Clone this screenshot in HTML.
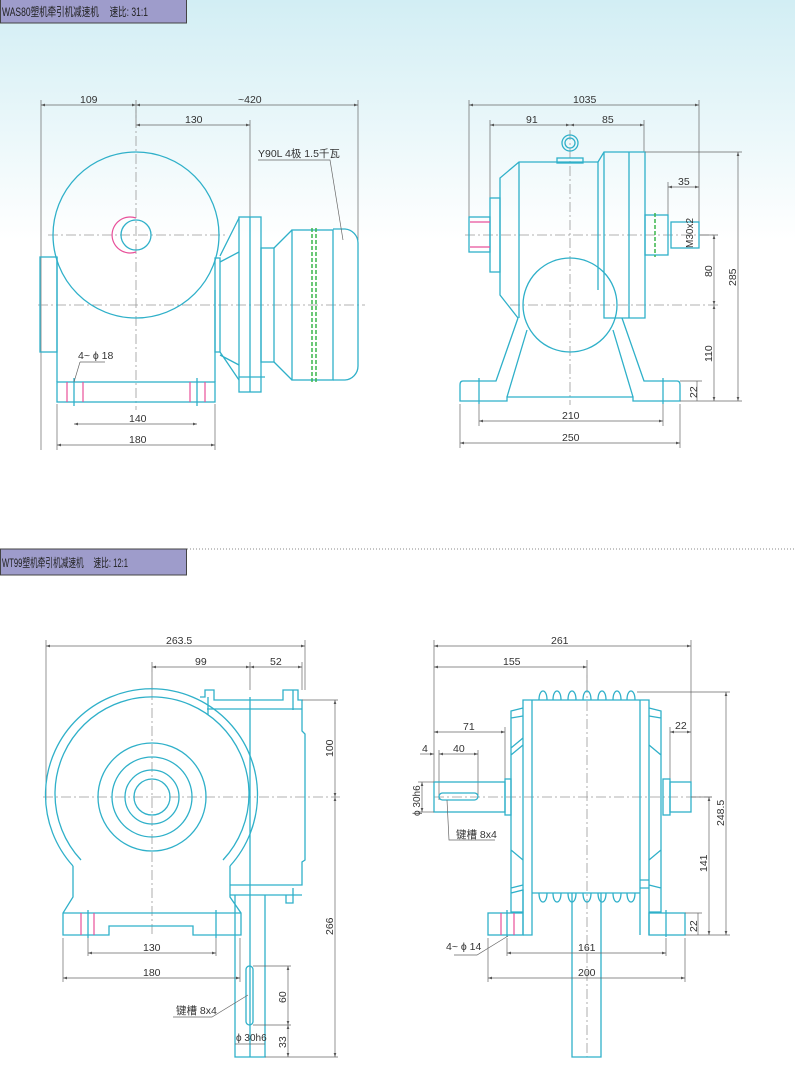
<!DOCTYPE html>
<html><head><meta charset="utf-8"><style>
html,body{margin:0;padding:0;background:#fff}
svg{display:block}
text{font-family:"Liberation Sans","Noto Sans CJK SC",sans-serif;font-size:10.5px;fill:#333}
.c{fill:none;stroke:#2fb0c9;stroke-width:1.3}
.d{fill:none;stroke:#666;stroke-width:0.7}
.cl{fill:none;stroke:#999;stroke-width:0.8;stroke-dasharray:10 3 2 3}
.p{stroke:#e8509a;stroke-width:1.2}
.g{stroke:#3ab54a;stroke-width:1.5;stroke-dasharray:4 2}
</style></head><body>
<svg width="795" height="1084" viewBox="0 0 795 1084" xmlns="http://www.w3.org/2000/svg">
<defs>
<linearGradient id="bg" x1="0" y1="0" x2="0" y2="1">
<stop offset="0" stop-color="#d2eef4"/><stop offset="1" stop-color="#ffffff"/></linearGradient>
<marker id="a" viewBox="0 0 6 6" refX="6" refY="3" markerWidth="6" markerHeight="6" orient="auto-start-reverse"><path d="M0,1 L6,3 L0,5z" fill="#555"/></marker>
</defs>
<rect x="0" y="0" width="795" height="240" fill="url(#bg)"/>
<rect x="0.5" y="-1" width="186" height="24" fill="#9e9ccb" stroke="#444"/>
<text x="2" y="16" style="font-size:12px;fill:#222" textLength="146" lengthAdjust="spacingAndGlyphs">WAS80塑机牵引机减速机　 速比: 31:1</text>
<line x1="187" y1="549" x2="795" y2="549" stroke="#888" stroke-dasharray="1 2"/>
<rect x="0.5" y="549" width="186" height="26" fill="#9e9ccb" stroke="#444"/>
<text x="2" y="567" style="font-size:12px;fill:#222" textLength="126" lengthAdjust="spacingAndGlyphs">WT99塑机牵引机减速机　 速比: 12:1</text>

<!-- ===== Top-left ===== -->
<g>
<line class="d" x1="41" y1="100" x2="41" y2="450"/><line class="d" x1="136" y1="100" x2="136" y2="128"/>
<line class="d" x1="358" y1="100" x2="358" y2="240"/><line class="d" x1="250" y1="120" x2="250" y2="217"/>
<line class="d" x1="41" y1="105" x2="136" y2="105" marker-start="url(#a)" marker-end="url(#a)"/>
<line class="d" x1="136" y1="105" x2="358" y2="105" marker-start="url(#a)" marker-end="url(#a)"/>
<line class="d" x1="136" y1="125" x2="250" y2="125" marker-start="url(#a)" marker-end="url(#a)"/>
<text x="80" y="103">109</text><text x="238" y="103">~420</text><text x="185" y="123">130</text>
<line class="cl" x1="48" y1="235" x2="225" y2="235"/><line class="cl" x1="38" y1="305" x2="365" y2="305"/>
<line class="cl" x1="136" y1="100" x2="136" y2="410"/>
<circle class="c" cx="136" cy="235" r="83"/>
<circle class="c" cx="136" cy="235" r="15"/>
<path d="M136,218 A18,18 0 1 1 136,252" fill="none" class="p" transform="rotate(180 136 235)"/>
<rect class="c" x="40" y="257" width="17" height="95"/>
<path class="c" d="M57,257 V382 M215,290 V382"/>
<rect class="c" x="57" y="382" width="158" height="20"/>
<path class="p" d="M67,382V402 M83,382V402 M190,382V402 M205,382V402"/>
<path class="c" d="M74,378V406 M197,378V406"/>
<rect class="c" x="215" y="258" width="5" height="94"/>
<path class="c" d="M220,256 L239,218 M220,262 L239,252 M220,352 L239,380 M220,355 L239,365"/>
<rect class="c" x="239" y="217" width="22" height="175"/>
<path class="c" d="M250,217V392 M239,377H265"/>
<rect class="c" x="261" y="248" width="13" height="114"/>
<path class="c" d="M274,248 L292,230 M274,362 L292,380"/>
<rect class="c" x="292" y="230" width="41" height="150"/>
<path class="c" d="M333,229 H345 A14,14 0 0 1 358,243 V366 A14,14 0 0 1 345,380 H333"/>
<path class="g" d="M312,228V382 M316,228V382"/>
<text x="258" y="157">Y90L 4极 1.5千瓦</text>
<path class="d" d="M258,160H330 L343,240"/>
<text x="78" y="359">4~ ϕ 18</text>
<path class="d" d="M80,362H105 M80,362 L74,382"/>
<line class="d" x1="57" y1="404" x2="57" y2="450"/><line class="d" x1="215" y1="404" x2="215" y2="450"/>
<line class="d" x1="74" y1="424" x2="197" y2="424" marker-start="url(#a)" marker-end="url(#a)"/>
<line class="d" x1="57" y1="445" x2="215" y2="445" marker-start="url(#a)" marker-end="url(#a)"/>
<text x="129" y="422">140</text><text x="129" y="443">180</text>
</g>

<!-- ===== Top-right ===== -->
<g>
<line class="d" x1="469" y1="100" x2="469" y2="217"/><line class="d" x1="699" y1="100" x2="699" y2="222"/>
<line class="d" x1="490" y1="120" x2="490" y2="200"/><line class="d" x1="644" y1="120" x2="644" y2="152"/>
<line class="d" x1="668" y1="182" x2="668" y2="215"/>
<line class="d" x1="469" y1="105" x2="699" y2="105" marker-start="url(#a)" marker-end="url(#a)"/>
<line class="d" x1="490" y1="125" x2="570" y2="125" marker-start="url(#a)" marker-end="url(#a)"/>
<line class="d" x1="570" y1="125" x2="644" y2="125" marker-start="url(#a)" marker-end="url(#a)"/>
<line class="d" x1="668" y1="187" x2="699" y2="187" marker-start="url(#a)" marker-end="url(#a)"/>
<text x="573" y="103">1035</text><text x="526" y="123">91</text><text x="602" y="123">85</text><text x="678" y="185">35</text>
<line class="cl" x1="465" y1="235" x2="718" y2="235"/><line class="cl" x1="510" y1="305" x2="718" y2="305"/>
<line class="cl" x1="570" y1="130" x2="570" y2="405"/>
<circle class="c" cx="570" cy="143" r="8"/><circle class="c" cx="570" cy="143" r="5"/>
<rect class="c" x="557" y="158" width="26" height="5"/>
<path class="c" d="M598,162 H519 L500,178 V295 L518,318 M519,162 V318"/>
<rect class="c" x="490" y="198" width="10" height="74"/>
<rect class="c" x="469" y="217" width="21" height="35"/>
<path class="p" d="M470,222H490 M470,247H490"/>
<path class="c" d="M598,162 L604,152 H645 V318 H604 V152 M598,162 V290 M629,152 V318"/>
<rect class="c" x="645" y="215" width="23" height="40"/>
<path class="g" d="M655,213V257"/>
<rect class="c" x="671" y="222" width="28" height="26"/>
<text transform="translate(693,248) rotate(-90)" style="font-size:10px">M30x2</text>
<circle class="c" cx="570" cy="305" r="47"/>
<path class="c" d="M518,318 L496,381 H463 Q460,381 460,385 V401 H507 V397 H633 V401 H680 V385 Q680,381 677,381 H644 L622,318 M527,330 L507,397 M613,330 L633,397"/>
<path class="c" d="M479,378V404 M663,378V404"/>
<line class="d" x1="645" y1="152" x2="742" y2="152"/><line class="d" x1="680" y1="401" x2="742" y2="401"/>
<line class="d" x1="700" y1="235" x2="718" y2="235"/><line class="d" x1="680" y1="381" x2="702" y2="381"/>
<line class="d" x1="738" y1="152" x2="738" y2="401" marker-start="url(#a)" marker-end="url(#a)"/>
<line class="d" x1="714" y1="235" x2="714" y2="305" marker-start="url(#a)" marker-end="url(#a)"/>
<line class="d" x1="714" y1="305" x2="714" y2="401" marker-start="url(#a)" marker-end="url(#a)"/>
<line class="d" x1="697" y1="381" x2="697" y2="401"/>
<text transform="translate(736,286) rotate(-90)">285</text>
<text transform="translate(712,277) rotate(-90)">80</text>
<text transform="translate(712,362) rotate(-90)">110</text>
<text transform="translate(697,398) rotate(-90)">22</text>
<line class="d" x1="460" y1="404" x2="460" y2="448"/><line class="d" x1="680" y1="404" x2="680" y2="448"/>
<line class="d" x1="479" y1="404" x2="479" y2="426"/><line class="d" x1="663" y1="404" x2="663" y2="426"/>
<line class="d" x1="479" y1="421" x2="663" y2="421" marker-start="url(#a)" marker-end="url(#a)"/>
<line class="d" x1="460" y1="443" x2="680" y2="443" marker-start="url(#a)" marker-end="url(#a)"/>
<text x="562" y="419">210</text><text x="562" y="441">250</text>
</g>

<!-- ===== Bottom-left ===== -->
<g>
<line class="d" x1="46" y1="640" x2="46" y2="800"/><line class="d" x1="305" y1="640" x2="305" y2="690"/>
<line class="d" x1="152" y1="662" x2="152" y2="690"/><line class="d" x1="250" y1="662" x2="250" y2="690"/><line class="d" x1="302" y1="662" x2="302" y2="690"/>
<line class="d" x1="46" y1="646" x2="305" y2="646" marker-start="url(#a)" marker-end="url(#a)"/>
<line class="d" x1="152" y1="667" x2="250" y2="667" marker-start="url(#a)" marker-end="url(#a)"/>
<line class="d" x1="250" y1="667" x2="302" y2="667" marker-start="url(#a)" marker-end="url(#a)"/>
<text x="166" y="644">263.5</text><text x="195" y="665">99</text><text x="270" y="665">52</text>
<line class="cl" x1="43" y1="797" x2="340" y2="797"/><line class="cl" x1="152" y1="672" x2="152" y2="935"/>
<path class="c" d="M73,866 A106,106 0 1 1 230,866"/>
<path class="c" d="M81,860 A97,97 0 1 1 223,860"/>
<circle class="c" cx="152" cy="797" r="54"/><circle class="c" cx="152" cy="797" r="40"/>
<circle class="c" cx="152" cy="797" r="27"/><circle class="c" cx="152" cy="797" r="18"/>
<path class="c" d="M73,866 V897 L63,913 V935 H109 V926 H193 V935 H241 V913 L230,897 V866 M63,913 H241"/>
<path class="p" d="M81,913V935 M94,913V935"/>
<path class="c" d="M88,910V938 M216,910V938"/>
<path class="c" d="M200,697 H205 V690 H214 V700 H283 V690 H298 V700 H302 V731 L305,734 V860 L302,862 V885 H230 M207,709 H302 M230,895 H302 M293,888 V903 H286 V895 M208,697 V715 M293,690 V710"/>
<path class="c" d="M235,895 V1057 H265 V895 M250,697 V1057"/>
<rect class="c" x="246" y="966" width="7" height="59" rx="3.5"/>
<line class="d" x1="302" y1="700" x2="338" y2="700"/><line class="d" x1="265" y1="1057" x2="338" y2="1057"/>
<line class="d" x1="253" y1="966" x2="291" y2="966"/><line class="d" x1="253" y1="1025" x2="291" y2="1025"/>
<line class="d" x1="335" y1="700" x2="335" y2="797" marker-start="url(#a)" marker-end="url(#a)"/>
<line class="d" x1="335" y1="797" x2="335" y2="1057" marker-start="url(#a)" marker-end="url(#a)"/>
<line class="d" x1="288" y1="966" x2="288" y2="1025" marker-start="url(#a)" marker-end="url(#a)"/>
<line class="d" x1="288" y1="1025" x2="288" y2="1057" marker-start="url(#a)" marker-end="url(#a)"/>
<text transform="translate(333,757) rotate(-90)">100</text>
<text transform="translate(333,935) rotate(-90)">266</text>
<text transform="translate(286,1003) rotate(-90)">60</text>
<text transform="translate(286,1048) rotate(-90)">33</text>
<line class="d" x1="63" y1="938" x2="63" y2="982"/><line class="d" x1="240" y1="938" x2="240" y2="982"/>
<line class="d" x1="88" y1="938" x2="88" y2="956"/><line class="d" x1="216" y1="938" x2="216" y2="956"/>
<line class="d" x1="88" y1="953" x2="216" y2="953" marker-start="url(#a)" marker-end="url(#a)"/>
<line class="d" x1="63" y1="978" x2="240" y2="978" marker-start="url(#a)" marker-end="url(#a)"/>
<text x="143" y="951">130</text><text x="143" y="976">180</text>
<text x="176" y="1014">键槽 8x4</text>
<path class="d" d="M173,1017H212 L248,995"/>
<text x="236" y="1041" style="font-size:10px">ϕ 30h6</text>
<line class="d" x1="235" y1="1044" x2="265" y2="1044"/>
</g>

<!-- ===== Bottom-right ===== -->
<g>
<line class="d" x1="434" y1="640" x2="434" y2="785"/><line class="d" x1="691" y1="640" x2="691" y2="782"/>
<line class="d" x1="587" y1="660" x2="587" y2="690"/>
<line class="d" x1="434" y1="646" x2="691" y2="646" marker-start="url(#a)" marker-end="url(#a)"/>
<line class="d" x1="434" y1="667" x2="587" y2="667" marker-start="url(#a)" marker-end="url(#a)"/>
<text x="551" y="644">261</text><text x="503" y="665">155</text>
<line class="d" x1="505" y1="727" x2="505" y2="782"/><line class="d" x1="670" y1="727" x2="670" y2="782"/>
<line class="d" x1="439" y1="750" x2="439" y2="800"/><line class="d" x1="478" y1="750" x2="478" y2="795"/>
<line class="d" x1="434" y1="732" x2="505" y2="732" marker-start="url(#a)" marker-end="url(#a)"/>
<line class="d" x1="670" y1="732" x2="691" y2="732" marker-start="url(#a)" marker-end="url(#a)"/>
<line class="d" x1="439" y1="754" x2="478" y2="754" marker-start="url(#a)" marker-end="url(#a)"/>
<line class="d" x1="420" y1="754" x2="434" y2="754" marker-end="url(#a)"/>
<text x="463" y="730">71</text><text x="675" y="729">22</text><text x="453" y="752">40</text><text x="422" y="752">4</text>
<line class="cl" x1="434" y1="797" x2="712" y2="797"/><line class="cl" x1="587" y1="665" x2="587" y2="1057"/>
<path class="c" d="M523,935 V700 H532 V935 H523 M640,935 V700 H649 V935 M532,700 H640 M532,893 H640"/>
<path class="c" d="M539,700 C539,688 547,688 547,700 M553,700 C553,688 561,688 561,700 M568,700 C568,688 576,688 576,700 M583,700 C583,688 591,688 591,700 M598,700 C598,688 606,688 606,700 M613,700 C613,688 621,688 621,700 M627,700 C627,688 635,688 635,700"/>
<path class="c" d="M539,893 C539,905 547,905 547,893 M553,893 C553,905 561,905 561,893 M568,893 C568,905 576,905 576,893 M583,893 C583,905 591,905 591,893 M598,893 C598,905 606,905 606,893 M613,893 C613,905 621,905 621,893 M627,893 C627,905 635,905 635,893"/>
<path class="c" d="M523,708 L511,711 V748 L523,738 M511,748 V755 L523,745 M511,755 V850 L523,860 M511,850 V893 L523,890 V912 H511 V893 M511,718 L523,716 M511,888 L523,885"/>
<path class="c" d="M649,708 L661,711 V755 L649,745 M661,755 V850 L649,860 M661,850 V912 H649 M661,718 L649,716 M661,888 L649,885"/>
<path class="c" d="M640,880 H649 M640,888 H649"/>
<rect class="c" x="434" y="782" width="71" height="30"/>
<rect class="c" x="505" y="779" width="6" height="36"/>
<rect class="c" x="670" y="782" width="21" height="30"/>
<rect class="c" x="663" y="779" width="7" height="36"/>
<rect class="c" x="439" y="793" width="39" height="7" rx="3.5"/>
<rect class="c" x="488" y="913" width="35" height="22"/>
<rect class="c" x="649" y="913" width="36" height="22"/>
<path class="p" d="M501,913V935 M514,913V935"/>
<path class="c" d="M507,910V937 M666,910V937"/>
<path class="c" d="M572,893 V1057 H601 V893"/>
<line class="d" x1="637" y1="692" x2="730" y2="692"/><line class="d" x1="685" y1="935" x2="730" y2="935"/>
<line class="d" x1="691" y1="797" x2="712" y2="797"/><line class="d" x1="685" y1="913" x2="702" y2="913"/>
<line class="d" x1="726" y1="692" x2="726" y2="935" marker-start="url(#a)" marker-end="url(#a)"/>
<line class="d" x1="709" y1="797" x2="709" y2="935" marker-start="url(#a)" marker-end="url(#a)"/>
<line class="d" x1="698" y1="913" x2="698" y2="935"/>
<text transform="translate(724,826) rotate(-90)">248.5</text>
<text transform="translate(707,872) rotate(-90)">141</text>
<text transform="translate(697,932) rotate(-90)">22</text>
<line class="d" x1="418" y1="782" x2="434" y2="782"/><line class="d" x1="418" y1="812" x2="434" y2="812"/>
<line class="d" x1="422" y1="782" x2="422" y2="812" marker-start="url(#a)" marker-end="url(#a)"/>
<text transform="translate(420,816) rotate(-90)" style="font-size:10px">ϕ 30h6</text>
<text x="456" y="838">键槽 8x4</text>
<path class="d" d="M447,800 L449,840 H495"/>
<text x="446" y="950">4~ ϕ 14</text>
<path class="d" d="M454,955 H477 L508,936"/>
<line class="d" x1="488" y1="938" x2="488" y2="982"/><line class="d" x1="685" y1="938" x2="685" y2="982"/>
<line class="d" x1="507" y1="938" x2="507" y2="956"/><line class="d" x1="666" y1="938" x2="666" y2="956"/>
<line class="d" x1="507" y1="953" x2="666" y2="953" marker-start="url(#a)" marker-end="url(#a)"/>
<line class="d" x1="488" y1="978" x2="685" y2="978" marker-start="url(#a)" marker-end="url(#a)"/>
<text x="578" y="951">161</text><text x="578" y="976">200</text>
</g>
</svg>
</body></html>
